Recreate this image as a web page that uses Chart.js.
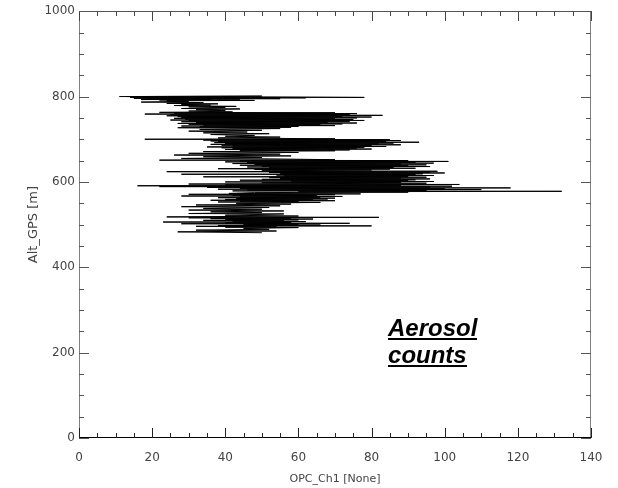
<!DOCTYPE html>
<html>
<head>
<meta charset="utf-8">
<script src="https://cdn.jsdelivr.net/npm/chart.js@4/dist/chart.umd.min.js"></script>
<style>
  html, body { margin: 0; padding: 0; background: #fff; }
  #wrap { width: 618px; height: 488px; position: relative; }
</style>
</head>
<body>
<div id="wrap"><canvas id="chart"></canvas></div>
<script>
// OPC channel 1 counts vs GPS altitude in order (one row per band)
const opc = [
  11, 50, 13, 78, 16, 42, 14, 62, 18, 38, 15, 55, 20, 44, 17, 36, 22, 48, 24,
  30, 17, 34, 24, 38, 28, 36, 26, 43, 30, 40, 28, 44, 32, 40, 30, 42,
  22, 70, 26, 76, 18, 74, 25, 83, 24, 72, 27, 80, 28, 76, 26, 70, 29, 75, 25, 78, 30, 74, 28, 68, 32, 76, 27, 72, 30, 66, 34, 70, 28, 60, 33, 58, 27,
  55, 33, 50, 30, 46, 34, 52, 36, 48, 40, 55, 38,
  70, 18, 85, 34, 88, 36, 84, 38, 93, 37, 86, 40, 82, 36, 88, 39, 80, 42, 84, 35, 78, 39, 76, 42, 80, 40, 74, 44, 70,
  34, 60, 30, 55, 26, 58, 34, 50, 28, 52,
  70, 22, 90, 44, 101, 40, 92, 46, 97, 42, 88, 48, 95, 44, 90, 50, 96, 46, 86, 52, 92, 38, 85, 48, 80,
  50, 98, 24, 96, 52, 100, 55, 94, 28, 92, 54, 97, 56, 90, 34, 95, 52, 88, 55, 96, 50, 92, 44, 90, 58, 97, 40, 88, 50, 95,
  30, 104, 40, 88, 16, 102, 22, 96, 35, 118, 44, 100, 38, 110, 46, 95, 42, 132, 60, 90, 48,
  41, 77, 30, 70, 42, 65, 28, 72, 44, 66, 38, 70, 43, 68, 40, 64, 36, 70, 44, 60, 38, 66, 43,
  58, 32, 55, 28, 52, 34, 50, 30, 56, 36, 50, 30, 56,
  40, 60, 24, 82, 30, 58, 36, 64, 40, 60, 34, 56, 42, 62, 23, 58, 40, 74, 28, 60, 45, 66, 38, 80, 32, 54, 40, 60, 45, 52, 32, 54, 27, 50
];
const alt = [
  800, 801, 800, 798, 799, 800, 798, 797, 797, 796, 796, 795, 795, 794, 793, 793, 792, 791, 790,
  789, 787, 786, 784, 783, 781, 780, 779, 777, 776, 774, 772, 771, 769, 767, 766, 764,
  763, 762, 761, 760, 759, 758, 757, 756, 755, 754, 753, 752, 751, 750, 749, 748, 747, 746, 745, 744, 743, 742, 741, 740, 739, 738, 737, 736, 735, 734, 733, 732, 731, 730, 729, 728, 727,
  725, 723, 721, 719, 717, 715, 713, 711, 709, 707, 705, 703,
  701, 700, 699, 698, 697, 696, 695, 694, 693, 692, 691, 690, 689, 688, 687, 686, 685, 684, 683, 682, 681, 680, 679, 678, 677, 676, 675, 674, 673,
  671, 669, 667, 665, 663, 661, 659, 657, 655, 654,
  652, 651, 650, 649, 648, 647, 646, 645, 644, 643, 642, 641, 640, 639, 638, 637, 636, 635, 634, 633, 632, 631, 630, 629, 628,
  626, 625, 624, 623, 622, 621, 620, 619, 618, 617, 616, 615, 614, 613, 612, 611, 610, 609, 608, 607, 606, 605, 604, 603, 602, 601, 600, 599, 598, 597,
  595, 594, 593, 592, 591, 590, 589, 588, 587, 586, 585, 584, 583, 582, 581, 580, 579, 578, 577, 576, 575,
  573, 572, 571, 570, 569, 568, 567, 566, 565, 564, 563, 562, 561, 560, 559, 558, 557, 556, 555, 554, 553, 552, 550,
  548, 546, 544, 542, 540, 538, 536, 534, 532, 530, 528, 526, 525,
  522, 520, 518, 517, 516, 515, 514, 513, 512, 511, 510, 509, 508, 507, 506, 505, 504, 503, 502, 501, 500, 499, 498, 497, 496, 495, 494, 493, 491, 489, 487, 485, 483, 481
];
const xTicks = [0, 20, 40, 60, 80, 100, 120, 140];
const yTicks = [0, 200, 400, 600, 800, 1000];
const note = ['Aerosol', 'counts'];

const points = opc.map((v, i) => ({ x: v, y: alt[i] }));

// IDL style box with inward ticks on all four sides
const frame = {
  id: 'frame',
  afterDraw(chart) {
    const c = chart.ctx, a = chart.chartArea;
    const xs = chart.scales.x, ys = chart.scales.y;
    const L = Math.round(a.left), R = Math.round(a.right);
    const T = Math.round(a.top), B = Math.round(a.bottom);
    c.save();
    c.fillStyle = '#808080';
    c.fillRect(L, T, 1, B - T + 1);
    c.fillRect(R - 1, T, 1, B - T + 1);
    c.fillStyle = '#555';
    c.fillRect(L, T, R - L, 1);
    c.fillStyle = '#000';
    c.fillRect(L, B - 1, R - L, 1);
    for (let v = 0; v <= 140; v += 5) {
      const px = Math.round(xs.getPixelForValue(v));
      const len = v % 20 === 0 ? 10 : 5;
      c.fillStyle = '#222';
      c.fillRect(px, B - len, 1, len);
      c.fillStyle = '#444';
      c.fillRect(px, T, 1, len);
    }
    c.fillStyle = '#555';
    for (let v = 0; v <= 1000; v += 50) {
      const py = Math.round(ys.getPixelForValue(v));
      const len = v % 200 === 0 ? 10 : 5;
      c.fillRect(L, py, len, 1);
      c.fillRect(R - len, py, len, 1);
    }

    // annotation text
    c.fillStyle = '#000';
    c.font = 'italic bold 24px "Liberation Sans", Arial, sans-serif';
    c.textBaseline = 'alphabetic';
    const tx = xs.getPixelForValue(84.5);
    const lines = [ys.getPixelForValue(238), ys.getPixelForValue(175)];
    note.forEach((t, i) => {
      c.fillText(t, tx, lines[i]);
      const w = c.measureText(t).width;
      c.fillRect(Math.round(tx), Math.round(lines[i]) + 2, Math.round(w), 2);
    });
    c.restore();
  }
};

const tickFont = { family: '"DejaVu Sans", sans-serif', size: 12 };

new Chart(document.getElementById('chart'), {
  type: 'line',
  data: {
    datasets: [{
      data: points,
      borderColor: '#000',
      borderWidth: 1,
      pointRadius: 0,
      tension: 0,
      fill: false
    }]
  },
  options: {
    responsive: true,
    maintainAspectRatio: false,
    animation: false,
    layout: { padding: { top: 10, right: 27, left: 0, bottom: 0 } },
    plugins: { legend: { display: false }, tooltip: { enabled: false } },
    scales: {
      x: {
        type: 'linear',
        min: 0, max: 140,
        grid: { display: false, drawTicks: false },
        border: { display: false },
        afterBuildTicks: s => { s.ticks = xTicks.map(v => ({ value: v })); },
        afterFit: s => { s.height = 50; },
        ticks: { color: '#444', font: tickFont, padding: 13, maxRotation: 0,
                 callback: v => String(v) },
        title: { display: true, text: 'OPC_Ch1 [None]', color: '#444',
                 font: { family: '"DejaVu Sans", sans-serif', size: 11 }, padding: { top: 2, bottom: 2 } }
      },
      y: {
        min: 0, max: 1000,
        grid: { display: false, drawTicks: false },
        border: { display: false },
        afterBuildTicks: s => { s.ticks = yTicks.map(v => ({ value: v })); },
        afterFit: s => { s.width = 79; },
        ticks: { color: '#444', font: tickFont, padding: 4,
                 callback: v => String(v) },
        title: { display: true, text: 'Alt_GPS [m]', color: '#444',
                 font: { family: '"DejaVu Sans", sans-serif', size: 13 }, padding: { top: 26, bottom: 0 } }
      }
    }
  },
  plugins: [frame]
});
</script>
</body>
</html>
